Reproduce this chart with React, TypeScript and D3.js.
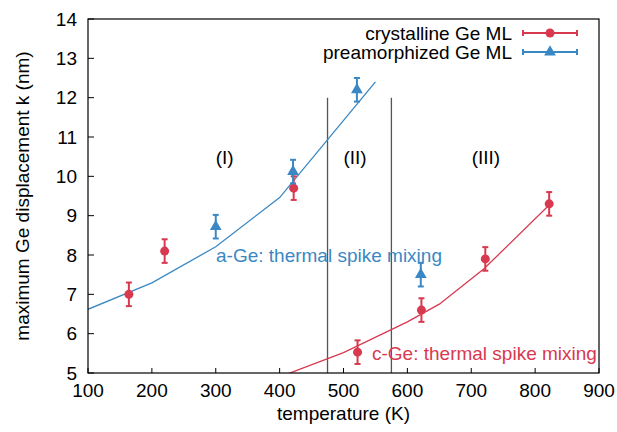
import React from "react";
import * as d3 from "d3";

const xTicks = [100, 200, 300, 400, 500, 600, 700, 800, 900];
const yTicks = [5, 6, 7, 8, 9, 10, 11, 12, 13, 14];

// crystalline Ge ML (red)
const cTemp = [164, 220, 422, 522, 622, 722, 822];
const cVal = [7.0, 8.1, 9.7, 5.53, 6.6, 7.9, 9.3];
const cErr = [0.3, 0.3, 0.3, 0.3, 0.3, 0.3, 0.3];

// preamorphized Ge ML (blue)
const aTemp = [300, 421, 521, 621];
const aVal = [8.72, 10.12, 12.2, 7.5];
const aErr = [0.3, 0.3, 0.3, 0.3];

// thermal spike mixing model curves
const aModelT = [100, 200, 300, 400, 550];
const aModelV = [6.62, 7.29, 8.21, 9.46, 12.4];
const cModelT = [400, 500, 600, 650, 720, 822];
const cModelV = [4.9, 5.52, 6.3, 6.75, 7.65, 9.27];

const regionLines = [475, 575];
const regionTop = 12.0;
const regionLabelT = [314, 518, 723];
const regionLabelText = ["(I)", "(II)", "(III)"];
const regionLabelV = 10.5;

const RED = "#d8394f";
const BLUE = "#3a88c3";
const FONT = "'Liberation Sans', Arial, Helvetica, sans-serif";

export default function App() {
  const W = 617, H = 432;
  const L = 88, R = 599, T = 19, B = 373;
  const x = d3.scaleLinear().domain([100, 900]).range([L, R]);
  const y = d3.scaleLinear().domain([5, 14]).range([B, T]);
  const line = d3
    .line<[number, number]>()
    .x((d) => x(d[0]))
    .y((d) => y(d[1]));
  const aModel = aModelT.map((t, i) => [t, aModelV[i]] as [number, number]);
  const cModel = cModelT.map((t, i) => [t, cModelV[i]] as [number, number]);
  const fs = 19;
  const tri = d3.symbol().type(d3.symbolTriangle).size(60)();

  const errBar = (t: number, v: number, e: number, color: string, key: string) => (
    <g key={key} stroke={color} strokeWidth={2}>
      <line x1={x(t)} x2={x(t)} y1={y(v - e)} y2={y(v + e)} />
      <line x1={x(t) - 3} x2={x(t) + 3} y1={y(v - e)} y2={y(v - e)} />
      <line x1={x(t) - 3} x2={x(t) + 3} y1={y(v + e)} y2={y(v + e)} />
    </g>
  );

  return (
    <svg width={W} height={H} style={{ position: "absolute", left: 0, top: 0 }} fontFamily={FONT}>
      <defs>
        <clipPath id="plot">
          <rect x={L} y={T} width={R - L} height={B - T} />
        </clipPath>
      </defs>
      <rect width={W} height={H} fill="#fff" />
      {/* ticks */}
      {xTicks.map((t) => (
        <g key={"xt" + t}>
          <line x1={x(t)} x2={x(t)} y1={B} y2={B - 5} stroke="#000" />
          <text x={x(t)} y={397} textAnchor="middle" fontSize={fs}>{t}</text>
        </g>
      ))}
      {yTicks.map((t) => (
        <g key={"yt" + t}>
          <line x1={L} x2={L + 6} y1={y(t)} y2={y(t)} stroke="#000" />
          <text x={77} y={y(t) + 6.5} textAnchor="end" fontSize={fs}>{t}</text>
        </g>
      ))}
      {/* region lines */}
      {regionLines.map((t) => (
        <line key={"rl" + t} x1={x(t)} x2={x(t)} y1={y(regionTop)} y2={B} stroke="#555" strokeWidth={1.3} />
      ))}
      {regionLabelT.map((t, i) => (
        <text key={"rlab" + i} x={x(t)} y={y(regionLabelV) + 7} textAnchor="middle" fontSize={fs}>
          {regionLabelText[i]}
        </text>
      ))}
      {/* model curves */}
      <g clipPath="url(#plot)" fill="none" strokeWidth={1.3}>
        <path d={line(aModel) || ""} stroke={BLUE} />
        <path d={line(cModel) || ""} stroke={RED} />
      </g>
      <text x={216} y={262} fontSize={fs} fill={BLUE}>a-Ge: thermal spike mixing</text>
      <text x={372} y={360} fontSize={fs} fill={RED}>c-Ge: thermal spike mixing</text>
      {/* data */}
      {cTemp.map((t, i) => (
        <g key={"c" + i}>
          {errBar(t, cVal[i], cErr[i], RED, "ce" + i)}
          <circle cx={x(t)} cy={y(cVal[i])} r={4.5} fill={RED} />
        </g>
      ))}
      {aTemp.map((t, i) => (
        <g key={"a" + i}>
          {errBar(t, aVal[i], aErr[i], BLUE, "ae" + i)}
          <path d={tri || ""} transform={`translate(${x(t)},${y(aVal[i])})`} fill={BLUE} />
        </g>
      ))}
      {/* frame */}
      <rect x={L} y={T} width={R - L} height={B - T} fill="none" stroke="#000" strokeWidth={1.2} />
      {/* legend */}
      <text x={512} y={40} textAnchor="end" fontSize={fs}>crystalline Ge ML</text>
      <text x={512} y={59} textAnchor="end" fontSize={fs}>preamorphized Ge ML</text>
      {[{ c: RED, yy: 33, m: "c" }, { c: BLUE, yy: 52, m: "a" }].map((l) => (
        <g key={l.m} stroke={l.c} strokeWidth={2}>
          <line x1={523} x2={577} y1={l.yy} y2={l.yy} />
          <line x1={523} x2={523} y1={l.yy - 3} y2={l.yy + 3} />
          <line x1={577} x2={577} y1={l.yy - 3} y2={l.yy + 3} />
          {l.m === "c" ? (
            <circle cx={550} cy={l.yy} r={4.5} fill={l.c} stroke="none" />
          ) : (
            <path d={tri || ""} transform={`translate(550,${l.yy})`} fill={l.c} stroke="none" />
          )}
        </g>
      ))}
      {/* axis titles */}
      <text x={(L + R) / 2} y={420} textAnchor="middle" fontSize={fs}>temperature (K)</text>
      <text transform={`translate(29,${(T + B) / 2}) rotate(-90)`} textAnchor="middle" fontSize={fs}>
        maximum Ge displacement k (nm)
      </text>
    </svg>
  );
}
